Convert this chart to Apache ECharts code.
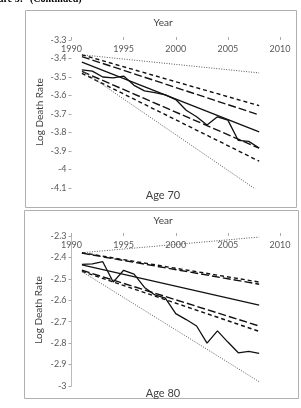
<!DOCTYPE html>
<html>
<head>
<meta charset="utf-8">
<script src="https://cdn.jsdelivr.net/npm/echarts@6/dist/echarts.min.js"></script>
<style>
  html, body { margin: 0; padding: 0; background: #fff; }
  #chart { width: 301px; height: 408px; }
</style>
</head>
<body>
<div id="chart"></div>
<script>
// years of the observed series
const years = [1991, 1992, 1993, 1994, 1995, 1996, 1997, 1998, 1999, 2000, 2001, 2002, 2003, 2004, 2005, 2006, 2007, 2008];
// straight lines run from first to last year
const lineYears = [1991, 2008];

// Age 70
const obs70 = [-3.462, -3.468, -3.50, -3.505, -3.495, -3.545, -3.575, -3.585, -3.597, -3.622, -3.68, -3.715, -3.76, -3.715, -3.733, -3.843, -3.848, -3.884];
const fit70 = [-3.42, -3.797];
const dotUp70 = [-3.38, -3.478];
const shortUp70 = [-3.38, -3.655];
const longUp70 = [-3.39, -3.705];
const longLo70 = [-3.47, -3.885];
const shortLo70 = [-3.48, -3.955];
const dotLo70 = [-3.465, -4.12];

// Age 80
const obs80 = [-2.432, -2.43, -2.42, -2.515, -2.46, -2.478, -2.54, -2.575, -2.59, -2.662, -2.69, -2.72, -2.80, -2.743, -2.795, -2.845, -2.838, -2.848];
const fit80 = [-2.435, -2.623];
const dotUp80 = [-2.378, -2.305];
const shortUp80 = [-2.378, -2.515];
const longUp80 = [-2.38, -2.525];
const longLo80 = [-2.46, -2.72];
const shortLo80 = [-2.465, -2.745];
const dotLo80 = [-2.466, -2.98];

// axis ranges
const yRange70 = [-4.1, -3.3];
const yRange80 = [-3, -2.3];
const xRange = [1990, 2010];

const FONT = 'Lato';
const LABEL = '#595959';

let pairs = (xs, ys) => xs.map((x, i) => [x, ys[i]]);

let styles = {
  solid: { color: '#111', width: 1.3, type: 'solid' },
  shortDash: { color: '#111', width: 1.4, type: [4, 3] },
  longDash: { color: '#111', width: 1.4, type: [8, 3] },
  dot: { color: '#555', width: 1, type: [1, 1.5] }
};

function line(idx, xs, ys, style) {
  return {
    type: 'line',
    xAxisIndex: idx,
    yAxisIndex: idx,
    data: pairs(xs, ys),
    showSymbol: false,
    silent: true,
    lineStyle: styles[style]
  };
}

function xAxisFor(idx) {
  return {
    gridIndex: idx,
    type: 'value',
    position: 'top',
    min: xRange[0],
    max: xRange[1],
    interval: 5,
    axisLine: { show: false },
    axisTick: { show: true, length: 3, lineStyle: { color: '#aaa' } },
    axisLabel: {
      inside: true, margin: 5, color: LABEL, fontSize: 9, fontFamily: FONT,
      formatter: v => String(v)
    },
    splitLine: { show: false }
  };
}

function yAxisFor(idx, range, showLine) {
  return {
    gridIndex: idx,
    type: 'value',
    min: range[0],
    max: range[1],
    interval: 0.1,
    axisLine: { show: showLine, lineStyle: { color: '#bbb' } },
    axisTick: { show: true, length: 3, lineStyle: { color: '#aaa' } },
    axisLabel: { margin: 5, color: LABEL, fontSize: 9, fontFamily: FONT },
    splitLine: { show: false }
  };
}

function txt(x, y, text, size, rot) {
  return {
    type: 'text',
    x: x,
    y: y,
    rotation: rot || 0,
    style: { text: text, fill: '#404040', fontSize: size, fontFamily: FONT, align: 'center', verticalAlign: 'middle' }
  };
}

let chart = echarts.init(document.getElementById('chart'), null, { renderer: 'canvas' });

chart.setOption({
  animation: false,
  grid: [
    { left: 71.5, right: 21, top: 40, bottom: 220 },
    { left: 71.5, right: 21, top: 236, bottom: 22 }
  ],
  xAxis: [xAxisFor(0), xAxisFor(1)],
  yAxis: [yAxisFor(0, yRange70, false), yAxisFor(1, yRange80, true)],
  graphic: [
    { type: 'rect', shape: { x: 25.5, y: 10.5, width: 271, height: 197 }, style: { fill: null, stroke: '#b0b0b0', lineWidth: 1 } },
    { type: 'rect', shape: { x: 24.5, y: 210.5, width: 274, height: 188 }, style: { fill: null, stroke: '#b0b0b0', lineWidth: 1 } },
    // page caption, cut off at the top edge
    { type: 'text', x: -16, y: 4, style: { text: 'Figure 5:', fill: '#000', fontSize: 10, fontWeight: 'bold', fontFamily: 'Liberation Serif', verticalAlign: 'bottom' } },
    { type: 'text', x: 30, y: 4, style: { text: '(Continued)', fill: '#000', fontSize: 10, fontWeight: 'bold', fontFamily: 'Liberation Serif', verticalAlign: 'bottom' } },
    txt(163, 23, 'Year', 10),
    txt(163, 195, 'Age 70', 11),
    txt(40, 112, 'Log Death Rate', 10, Math.PI / 2),
    txt(163, 221, 'Year', 10),
    txt(163, 393, 'Age 80', 11),
    txt(39, 310, 'Log Death Rate', 10, Math.PI / 2)
  ],
  series: [
    line(0, lineYears, dotUp70, 'dot'),
    line(0, lineYears, shortUp70, 'shortDash'),
    line(0, lineYears, longUp70, 'longDash'),
    line(0, lineYears, fit70, 'solid'),
    line(0, years, obs70, 'solid'),
    line(0, lineYears, longLo70, 'longDash'),
    line(0, lineYears, shortLo70, 'shortDash'),
    line(0, lineYears, dotLo70, 'dot'),

    line(1, lineYears, dotUp80, 'dot'),
    line(1, lineYears, shortUp80, 'shortDash'),
    line(1, lineYears, longUp80, 'longDash'),
    line(1, lineYears, fit80, 'solid'),
    line(1, years, obs80, 'solid'),
    line(1, lineYears, longLo80, 'longDash'),
    line(1, lineYears, shortLo80, 'shortDash'),
    line(1, lineYears, dotLo80, 'dot')
  ]
});
</script>
</body>
</html>
